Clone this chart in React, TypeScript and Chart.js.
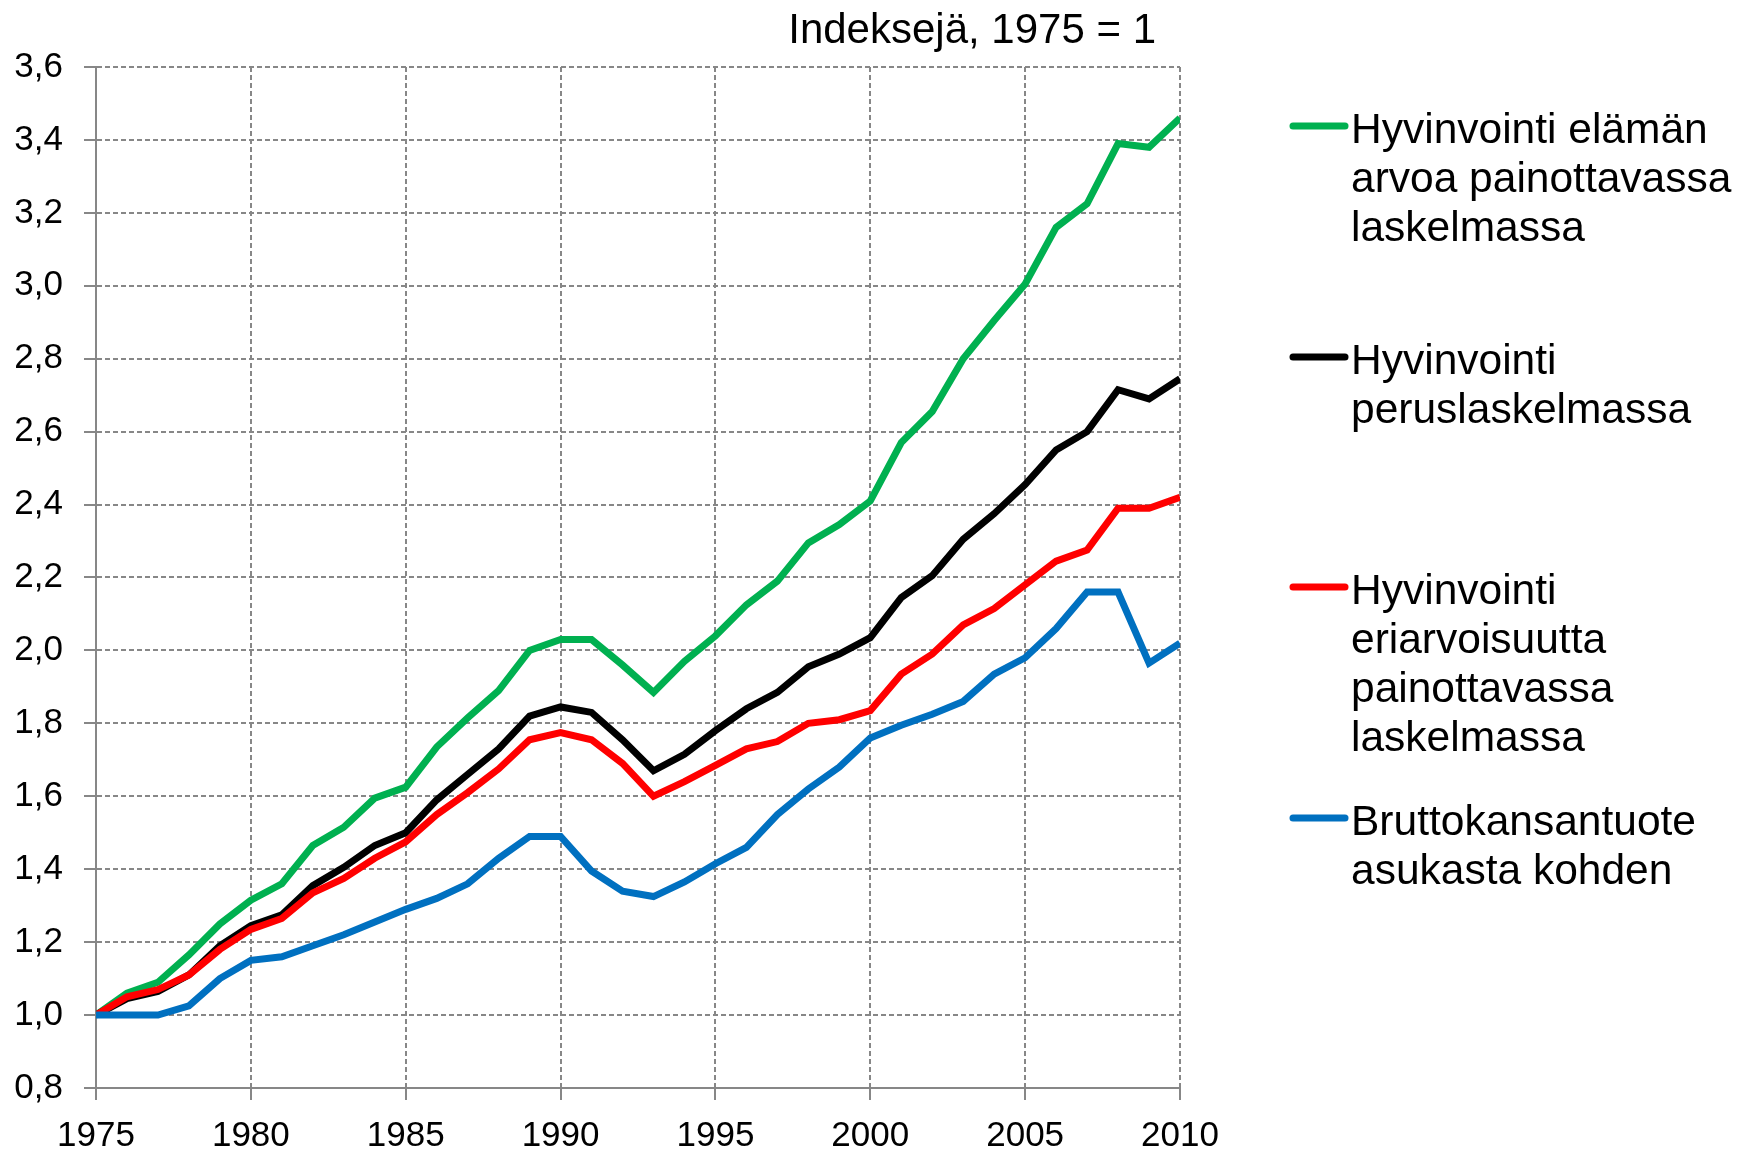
import React, { useEffect, useRef } from "react";
import { Chart, registerables } from "chart.js";

Chart.register(...registerables);

const years = [
  1975, 1976, 1977, 1978, 1979, 1980, 1981, 1982, 1983, 1984, 1985, 1986,
  1987, 1988, 1989, 1990, 1991, 1992, 1993, 1994, 1995, 1996, 1997, 1998,
  1999, 2000, 2001, 2002, 2003, 2004, 2005, 2006, 2007, 2008, 2009, 2010,
];

const greenValues = [
  1.0, 1.06, 1.09, 1.165, 1.25, 1.315, 1.36, 1.465, 1.515, 1.595, 1.625, 1.735,
  1.815, 1.89, 2.0, 2.03, 2.03, 1.96, 1.885, 1.97, 2.04, 2.125, 2.19, 2.295,
  2.345, 2.41, 2.57, 2.655, 2.8, 2.905, 3.005, 3.16, 3.225, 3.39, 3.38, 3.46,
];

const blackValues = [
  1.0, 1.045, 1.065, 1.11, 1.19, 1.245, 1.275, 1.355, 1.405, 1.465, 1.5, 1.59,
  1.66, 1.73, 1.82, 1.845, 1.83, 1.755, 1.67, 1.715, 1.78, 1.84, 1.885, 1.955,
  1.99, 2.035, 2.145, 2.205, 2.305, 2.375, 2.455, 2.55, 2.6, 2.715, 2.69, 2.745,
];

const redValues = [
  1.0, 1.05, 1.07, 1.11, 1.18, 1.235, 1.265, 1.335, 1.375, 1.43, 1.475, 1.55,
  1.61, 1.675, 1.755, 1.775, 1.755, 1.69, 1.6, 1.64, 1.685, 1.73, 1.75, 1.8,
  1.81, 1.835, 1.935, 1.99, 2.07, 2.115, 2.18, 2.245, 2.275, 2.39, 2.39, 2.42,
];

const blueValues = [
  1.0, 1.0, 1.0, 1.025, 1.1, 1.15, 1.16, 1.19, 1.22, 1.255, 1.29, 1.32,
  1.36, 1.43, 1.49, 1.49, 1.395, 1.34, 1.325, 1.365, 1.415, 1.46, 1.55, 1.62,
  1.68, 1.76, 1.795, 1.825, 1.86, 1.935, 1.98, 2.06, 2.16, 2.16, 1.965, 2.02,
];

const seriesLabels = [
  ["Hyvinvointi elämän", "arvoa painottavassa", "laskelmassa"],
  ["Hyvinvointi", "peruslaskelmassa"],
  ["Hyvinvointi", "eriarvoisuutta", "painottavassa", "laskelmassa"],
  ["Bruttokansantuote", "asukasta kohden"],
];
const seriesValues = [greenValues, blackValues, redValues, blueValues];
const seriesColors = ["#00B050", "#000000", "#FF0000", "#0070C0"];

const titleText = "Indeksejä, 1975 = 1";
const yMin = 0.8;
const yMax = 3.6;
const yStep = 0.2;
const xMin = 1975;
const xMax = 2010;
const xStep = 5;

const FONT = "'Liberation Sans', Arial, sans-serif";
const GRID = "#878787";

const legendTops = [128, 359, 589, 820];

const overlayPlugin = {
  id: "overlay",
  afterDraw(chart: any) {
    const ctx = chart.ctx;
    ctx.save();
    // title
    ctx.fillStyle = "#000";
    ctx.font = `42px ${FONT}`;
    ctx.textAlign = "right";
    ctx.textBaseline = "alphabetic";
    ctx.fillText(titleText, 1156, 43);
    // legend
    ctx.textAlign = "left";
    ctx.font = `42.5px ${FONT}`;
    seriesLabels.forEach((lines, i) => {
      const cy = legendTops[i];
      ctx.strokeStyle = seriesColors[i];
      ctx.lineWidth = 7;
      ctx.lineCap = "round";
      ctx.beginPath();
      ctx.moveTo(1293, cy - 2);
      ctx.lineTo(1345, cy - 2);
      ctx.stroke();
      ctx.fillStyle = "#000";
      lines.forEach((ln, j) => {
        ctx.fillText(ln, 1351, cy + 15 + j * 49);
      });
    });
    ctx.restore();
  },
};

export default function App() {
  const ref = useRef<HTMLCanvasElement | null>(null);

  useEffect(() => {
    if (!ref.current) return;
    const order = [3, 2, 1, 0];
    const chart = new Chart(ref.current, {
      type: "line",
      data: {
        datasets: seriesValues.map((vals, i) => ({
          label: seriesLabels[i].join(" "),
          data: years.map((y, k) => ({ x: y, y: vals[k] })),
          borderColor: seriesColors[i],
          backgroundColor: seriesColors[i],
          borderWidth: 7,
          pointRadius: 0,
          tension: 0,
          fill: false,
          order: order[i],
        })),
      },
      options: {
        animation: false,
        responsive: false,
        devicePixelRatio: 1,
        layout: { padding: { left: 0, top: 67, right: 572, bottom: 0 } },
        plugins: {
          legend: { display: false },
          title: { display: false },
          tooltip: { enabled: false },
        },
        scales: {
          x: {
            type: "linear",
            min: xMin,
            max: xMax,
            afterFit: (s: any) => {
              s.height = 64;
            },
            ticks: {
              stepSize: xStep,
              color: "#000",
              font: { family: FONT, size: 35 },
              padding: 15,
              maxRotation: 0,
              callback: (v: any) => String(v),
            },
            grid: {
              color: GRID,
              lineWidth: 2,
              tickLength: 12,
              tickColor: GRID,
              tickWidth: 2,
            },
            border: { color: GRID, width: 2, dash: [5, 3] },
          },
          y: {
            type: "linear",
            min: yMin,
            max: yMax,
            afterFit: (s: any) => {
              s.width = 96;
            },
            ticks: {
              stepSize: yStep,
              color: "#000",
              font: { family: FONT, size: 35 },
              padding: 21,
              callback: (v: any) => Number(v).toFixed(1).replace(".", ","),
            },
            grid: {
              color: GRID,
              lineWidth: 2,
              tickLength: 12,
              tickColor: GRID,
              tickWidth: 2,
            },
            border: { color: GRID, width: 2, dash: [5, 3] },
          },
        },
      },
      plugins: [overlayPlugin],
    } as any);
    return () => chart.destroy();
  }, []);

  return (
    <div
      style={{
        position: "absolute",
        left: 0,
        top: 0,
        width: 1752,
        height: 1152,
        background: "#fff",
      }}
    >
      <canvas ref={ref} width={1752} height={1152} style={{ width: 1752, height: 1152 }} />
    </div>
  );
}
